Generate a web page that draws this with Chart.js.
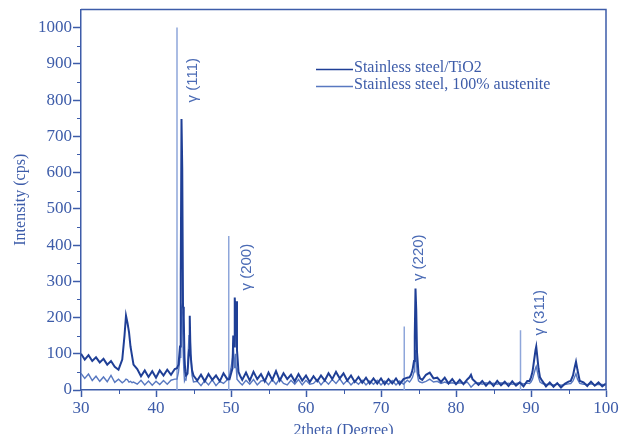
<!DOCTYPE html>
<html>
<head>
<meta charset="utf-8">
<script src="https://cdn.jsdelivr.net/npm/chart.js@4"></script>
<style>
  html, body { margin: 0; padding: 0; background: #fff; overflow: hidden; }
  #wrap { width: 633px; height: 450px; }
</style>
</head>
<body>
<div id="wrap"><canvas id="xrd" width="633" height="450"></canvas></div>
<script>
// 2theta positions (shared by both scans)
const angles = [
  30, 30.5, 31, 31.5, 32, 32.5, 33, 33.5, 34, 34.5, 35, 35.5,
  35.8, 36.0, 36.2, 36.4, 36.6, 36.8, 37.0,
  37.5, 38, 38.5, 39, 39.5, 40, 40.5, 41, 41.5, 42, 42.5,
  42.8, 43.0, 43.2, 43.3, 43.4, 43.5, 43.6, 43.7, 43.8, 43.9, 44.0, 44.2, 44.4, 44.5, 44.6, 44.8, 45.0,
  45.5, 46, 46.5, 47, 47.5, 48, 48.5, 49, 49.5,
  49.8, 50.0, 50.2, 50.3, 50.4, 50.5, 50.6, 50.7, 50.8, 51.0, 51.2,
  51.5, 52, 52.5, 53, 53.5, 54, 54.5, 55, 55.5, 56, 56.5, 57, 57.5, 58, 58.5,
  59, 59.5, 60, 60.5, 61, 61.5, 62, 62.5, 63, 63.5, 64, 64.5, 65, 65.5, 66,
  66.5, 67, 67.5, 68, 68.5, 69, 69.5, 70, 70.5, 71, 71.5, 72, 72.5, 73, 73.5,
  73.8, 74.0, 74.2, 74.4, 74.5, 74.6, 74.7, 74.8, 75.0, 75.2,
  75.5, 76, 76.5, 77, 77.5, 78, 78.5, 79, 79.5, 80, 80.5, 81, 81.5,
  81.8, 82.0, 82.2,
  82.5, 83, 83.5, 84, 84.5, 85, 85.5, 86, 86.5, 87, 87.5, 88, 88.5, 89, 89.5,
  89.8, 90.0, 90.2, 90.4, 90.6, 90.7, 90.8, 91.0, 91.2,
  91.5, 92, 92.5, 93, 93.5, 94, 94.5, 95,
  95.3, 95.6, 95.8, 96.0, 96.2, 96.5,
  97, 97.5, 98, 98.5, 99, 99.5, 100
];

const tio2 = [
  100, 84, 96, 80, 90, 76, 86, 70, 80, 64, 56, 84,
  150, 205, 185, 160, 120, 95, 70,
  58, 38, 54, 36, 52, 34, 54, 40, 56, 42, 58,
  60, 70, 120, 320, 748, 610, 230, 200, 90, 50, 40, 45, 110, 205, 100, 55, 40,
  26, 42, 24, 44, 28, 40, 24, 46, 30,
  30, 45, 60, 150, 120, 255, 200, 245, 110, 50, 40,
  28, 48, 26, 50, 30, 44, 24, 48, 28, 52, 26, 46, 30, 42, 24,
  44, 26, 40, 22, 38, 24, 40, 26, 46, 30, 50, 32, 46, 26, 40,
  22, 36, 20, 34, 18, 32, 18, 32, 16, 30, 18, 32, 16, 30, 34,
  35, 42, 55, 80, 150, 280, 220, 105, 45, 32,
  28, 42, 48, 32, 34, 22, 34, 18, 30, 16, 28, 16, 29,
  35, 42, 30,
  24, 14, 25, 12, 23, 11, 25, 13, 23, 11, 24, 12, 21, 10, 25,
  25, 35, 50, 80, 110, 120, 100, 60, 35,
  25, 10, 21, 9, 19, 7, 17, 23,
  25, 40, 60, 78, 55, 25,
  21, 11, 23, 12, 21, 10, 18
];

const austenite = [
  46, 32, 44, 26, 38, 24, 36, 23, 40, 21, 30, 20,
  25, 30, 28, 22, 24, 20, 22,
  16, 27, 14, 25, 13, 24, 15, 26, 16, 27, 30,
  30, 50, 90, 150, 225, 215, 120, 60, 25, 30, 28, 60, 150, 170, 120, 40, 22,
  24, 12, 26, 14, 28, 12, 24, 18, 28,
  40, 60, 90, 130, 80, 60, 100, 60, 30, 25, 20,
  14, 27, 16, 29, 14, 25, 27, 14, 29, 16, 31, 18, 14, 27, 16,
  29, 14, 27, 16, 18, 29, 14, 27, 16, 29, 18, 31, 16, 27, 14,
  25, 16, 27, 14, 25, 16, 27, 14, 25, 15, 26, 14, 25, 16, 27,
  22, 28, 35, 50, 70, 110, 90, 50, 25, 22,
  20, 24, 30, 22, 24, 18, 22, 18, 20, 17, 20, 18, 22,
  14, 8, 12,
  18, 20, 16, 20, 17, 19, 16, 20, 17, 19, 16, 18, 20, 17, 19,
  18, 22, 30, 45, 60, 65, 55, 35, 22,
  18, 16, 15, 14, 16, 13, 15, 17,
  18, 25, 35, 45, 30, 18,
  16, 15, 17, 14, 16, 15, 14
];

// reference pattern sticks
const refAngles = [42.8, 49.7, 73.1, 88.6];
const refHeights = [1000, 425, 175, 165];

// peak labels and where they sit (2theta, intensity)
const peakLabels = ["γ (111)", "γ (200)", "γ (220)", "γ (311)"];
const labelAngles = [44.9, 52.1, 75.1, 91.2];
const labelLevels = [855, 339, 365, 213];

const seriesNames = ["Stainless steel/TiO2", "Stainless steel, 100% austenite"];

const axisColor = "#3d5ca9";
const darkBlue = "#1f3f96";
const lightBlue = "#5878c0";
const stickColor = "#8ea6da";
const serif = "'Liberation Serif', 'Times New Roman', serif";

if (angles.length !== tio2.length || angles.length !== austenite.length) {
  console.error("length mismatch", angles.length, tio2.length, austenite.length);
}

const toPoints = (xs, ys) => xs.map((x, i) => ({ x: x, y: ys[i] }));

const stickPoints = [];
refAngles.forEach((a, i) => {
  stickPoints.push({ x: a, y: 0 }, { x: a, y: refHeights[i] }, { x: a, y: null });
});

const decor = {
  id: "decor",
  afterDraw(chart) {
    const { ctx, chartArea: area, scales } = chart;
    const x = scales.x;
    const y = scales.y;
    ctx.save();

    // top + right frame
    ctx.strokeStyle = axisColor;
    ctx.lineWidth = 1.5;
    ctx.beginPath();
    ctx.moveTo(area.left, area.top);
    ctx.lineTo(area.right, area.top);
    ctx.lineTo(area.right, area.bottom);
    ctx.stroke();

    // minor ticks
    ctx.lineWidth = 1;
    ctx.beginPath();
    for (let v = 50; v < 1050; v += 100) {
      const py = Math.round(y.getPixelForValue(v)) + 0.5;
      ctx.moveTo(area.left - 4, py);
      ctx.lineTo(area.left, py);
    }
    for (let v = 35; v < 100; v += 10) {
      const px = Math.round(x.getPixelForValue(v)) + 0.5;
      ctx.moveTo(px, area.bottom);
      ctx.lineTo(px, area.bottom + 4);
    }
    ctx.stroke();

    // peak labels
    ctx.fillStyle = "#4b6bb5";
    ctx.font = "15px 'Liberation Sans', Arial, sans-serif";
    ctx.textAlign = "center";
    ctx.textBaseline = "middle";
    peakLabels.forEach((t, i) => {
      ctx.save();
      ctx.translate(x.getPixelForValue(labelAngles[i]), y.getPixelForValue(labelLevels[i]));
      ctx.rotate(-Math.PI / 2);
      ctx.fillText(t, 0, 0);
      ctx.restore();
    });

    // legend
    const rows = [
      { text: seriesNames[0], color: darkBlue, y: 69.5 },
      { text: seriesNames[1], color: lightBlue, y: 86.5 }
    ];
    ctx.font = "16px " + serif;
    ctx.textAlign = "left";
    rows.forEach((r) => {
      ctx.strokeStyle = r.color;
      ctx.lineWidth = 1.5;
      ctx.beginPath();
      ctx.moveTo(316, r.y);
      ctx.lineTo(353, r.y);
      ctx.stroke();
      ctx.fillStyle = axisColor;
      ctx.fillText(r.text, 354, r.y - 2);
    });

    ctx.restore();
  }
};

new Chart(document.getElementById("xrd"), {
  type: "line",
  data: {
    datasets: [
      {
        label: seriesNames[0],
        data: toPoints(angles, tio2),
        borderColor: darkBlue,
        borderWidth: 2,
        pointRadius: 0,
        tension: 0
      },
      {
        label: seriesNames[1],
        data: toPoints(angles, austenite),
        borderColor: lightBlue,
        borderWidth: 1.4,
        pointRadius: 0,
        tension: 0
      },
      {
        label: "reference",
        data: stickPoints,
        borderColor: stickColor,
        borderWidth: 1.5,
        pointRadius: 0,
        spanGaps: false
      }
    ]
  },
  options: {
    responsive: false,
    animation: false,
    events: [],
    layout: { padding: { top: 9, right: 27, left: 0, bottom: 0 } },
    plugins: { legend: { display: false }, tooltip: { enabled: false } },
    scales: {
      x: {
        type: "linear",
        min: 30,
        max: 100,
        afterFit: (s) => { s.height = 60; },
        ticks: {
          stepSize: 10,
          color: axisColor,
          font: { family: serif, size: 17 },
          padding: 1,
          maxRotation: 0,
          callback: (v) => String(v)
        },
        grid: { drawOnChartArea: false, tickLength: 7, tickColor: axisColor, tickWidth: 1.5 },
        border: { color: axisColor, width: 1.5 },
        title: {
          display: true,
          text: "2theta (Degree)",
          color: axisColor,
          font: { family: serif, size: 16 },
          padding: { top: 0, bottom: 10 }
        }
      },
      y: {
        min: 0,
        max: 1050,
        afterFit: (s) => { s.width = 81; },
        ticks: {
          stepSize: 100,
          includeBounds: false,
          color: axisColor,
          font: { family: serif, size: 17, lineHeight: 1 },
          padding: 1,
          callback: (v) => String(v)
        },
        grid: { drawOnChartArea: false, tickLength: 8, tickColor: axisColor, tickWidth: 1.5 },
        border: { color: axisColor, width: 1.5 },
        title: {
          display: true,
          text: "Intensity (cps)",
          color: axisColor,
          font: { family: serif, size: 16 },
          padding: { top: 11, bottom: 0 }
        }
      }
    }
  },
  plugins: [decor]
});
</script>
</body>
</html>
